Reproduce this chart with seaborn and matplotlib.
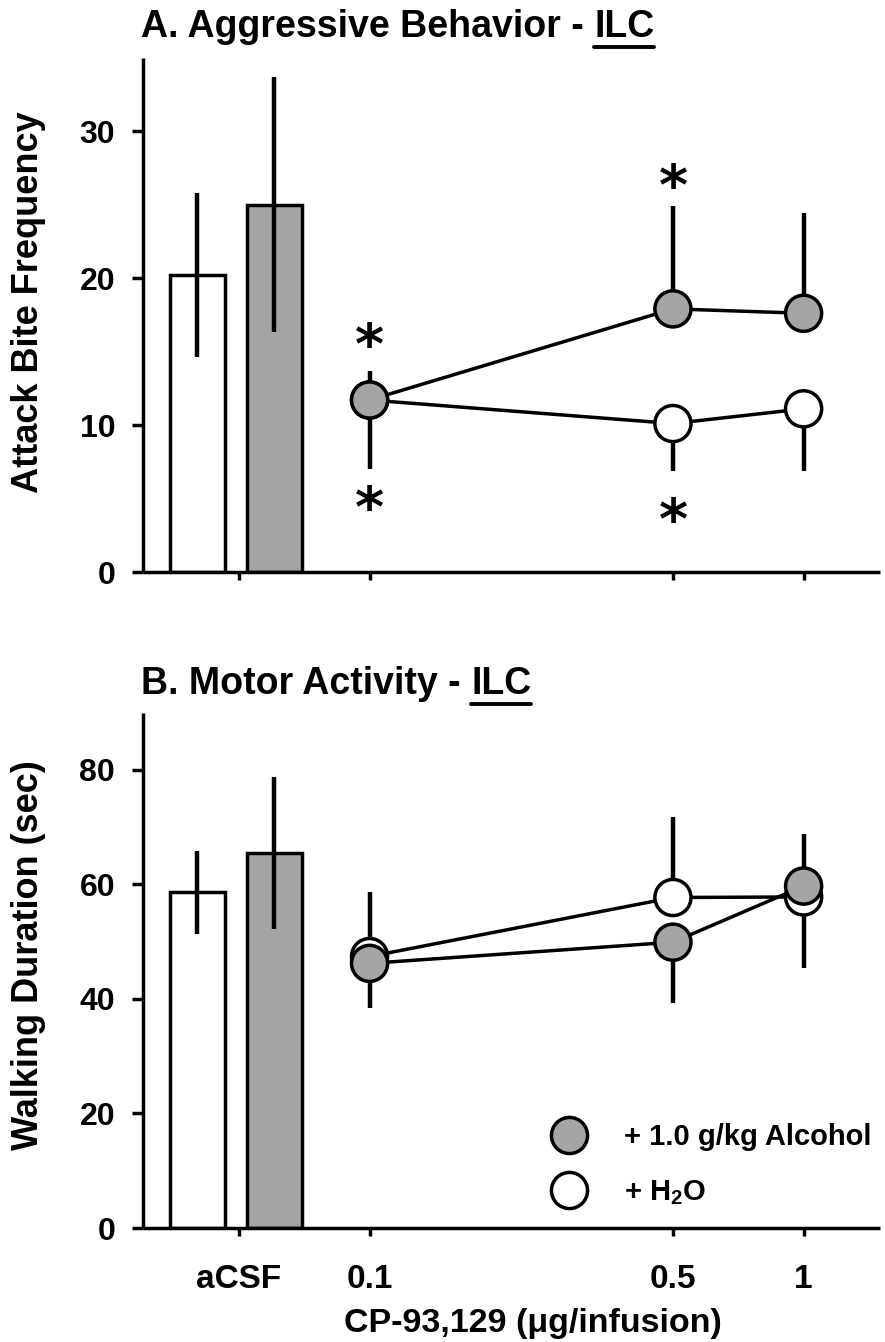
import numpy as np
import pandas as pd
import matplotlib
matplotlib.use("Agg")
import matplotlib.pyplot as plt
import matplotlib.transforms as mtransforms
import seaborn as sns
from matplotlib.lines import Line2D

# ---------------- data ----------------
dose_labels = ["aCSF", "0.1", "0.5", "1"]
doses = [0.1, 0.5, 1.0]
group_alc = "+ 1.0 g/kg Alcohol"
group_h2o = "+ H$_2$O"

# Panel A: attack bite frequency (aCSF bars: H2O, Alcohol)
bite_bar_mean = [20.2, 25.0]
bite_bar_sem = [5.6, 8.7]
bite_alc_mean = [11.7, 17.9, 17.6]
bite_alc_sem = [2.0, 7.0, 6.8]
bite_h2o_mean = [11.7, 10.1, 11.1]
bite_h2o_sem = [4.7, 3.2, 4.2]
star_dose = [0.1, 0.1, 0.5, 0.5]
star_y = [16.0, 4.9, 26.8, 4.1]

# Panel B: walking duration (sec)
walk_bar_mean = [58.6, 65.5]
walk_bar_sem = [7.2, 13.3]
walk_alc_mean = [46.2, 49.9, 59.7]
walk_alc_sem = [7.8, 10.6, 9.1]
walk_h2o_mean = [47.4, 57.7, 57.8]
walk_h2o_sem = [11.3, 14.0, 12.4]

# ---------------- style ----------------
sns.set_style("ticks", rc={"axes.edgecolor": "black", "text.color": "black",
                           "axes.labelcolor": "black", "xtick.color": "black",
                           "ytick.color": "black"})
plt.rcParams["font.family"] = ["Liberation Sans", "DejaVu Sans"]
plt.rcParams["font.weight"] = "bold"
plt.rcParams["mathtext.fontset"] = "custom"
plt.rcParams["mathtext.rm"] = "Liberation Sans:bold"
plt.rcParams["mathtext.it"] = "Liberation Sans:bold"
plt.rcParams["mathtext.bf"] = "Liberation Sans:bold"

GRAY = "#a5a5a5"
LW = 2.5          # spines, lines, marker edges
ELW = 3.2         # error bars
MS = 26           # marker diameter (pt)
ACSF_POS = 0.05               # where aCSF sits on the log dose axis
BAR_OFFS = [-0.0955, 0.081]   # in log10 units
BAR_W = 0.127
XLIM = (-1.522, 0.176)
W, H = 885, 1342

fig = plt.figure(figsize=(W / 100, H / 100), dpi=100)
axA = fig.add_axes([143 / W, 1 - 572 / H, (880 - 143) / W, (572 - 57.5) / H])
axB = fig.add_axes([143 / W, 1 - 1228 / H, (880 - 143) / W, (1228 - 712.5) / H])


def draw(ax, bar_mean, bar_sem, alc_mean, alc_sem, h2o_mean, h2o_sem,
         alc_up, h2o_up, ymax, yticks):
    bx = [np.log10(ACSF_POS) + o for o in BAR_OFFS]
    ax.bar(bx, bar_mean, width=BAR_W, color=["white", GRAY],
           edgecolor="black", linewidth=LW, zorder=2)
    ax.errorbar(bx, bar_mean, yerr=bar_sem, fmt="none", ecolor="black",
                elinewidth=ELW, capsize=0, zorder=3)

    lx = np.log10(doses)
    df = pd.DataFrame({
        "x": np.concatenate([lx, lx]),
        "y": h2o_mean + alc_mean,
        "group": [group_h2o] * 3 + [group_alc] * 3,
    })
    # one-sided error bars
    for mean, sem, up in ((alc_mean, alc_sem, alc_up), (h2o_mean, h2o_sem, h2o_up)):
        lo = [0 if u else s for s, u in zip(sem, up)]
        hi = [s if u else 0 for s, u in zip(sem, up)]
        ax.errorbar(lx, mean, yerr=[lo, hi], fmt="none", ecolor="black",
                    elinewidth=ELW, capsize=0, zorder=3)
    sns.lineplot(data=df, x="x", y="y", hue="group",
                 palette={group_h2o: "black", group_alc: "black"},
                 linewidth=LW, legend=False, sort=False, ax=ax, zorder=4)
    sns.scatterplot(data=df, x="x", y="y", hue="group",
                    palette={group_h2o: "white", group_alc: GRAY},
                    s=MS ** 2, edgecolor="black", linewidth=LW, legend=False,
                    ax=ax, zorder=5)

    ax.set_xlim(*XLIM)
    ax.set_ylim(0, ymax)
    ax.set_yticks(yticks)
    ax.set_xticks(np.log10([ACSF_POS] + doses))
    for s in ("top", "right"):
        ax.spines[s].set_visible(False)
    for s in ("left", "bottom"):
        ax.spines[s].set_linewidth(LW)
        ax.spines[s].set_capstyle("butt")
    ax.tick_params(axis="y", direction="out", length=8, width=LW,
                   labelsize=23, pad=12)
    ax.tick_params(axis="x", direction="out", length=6, width=LW,
                   labelsize=24, pad=20)
    ax.set_xlabel("")


draw(axA, bite_bar_mean, bite_bar_sem, bite_alc_mean, bite_alc_sem,
     bite_h2o_mean, bite_h2o_sem, [True] * 3, [False] * 3, 35, [0, 10, 20, 30])
draw(axB, walk_bar_mean, walk_bar_sem, walk_alc_mean, walk_alc_sem,
     walk_h2o_mean, walk_h2o_sem, [False, False, True], [True, True, False],
     90, [0, 20, 40, 60, 80])

axA.set_xticklabels([])
axB.set_xticklabels(dose_labels)

# significance stars (panel A)
star_tr = mtransforms.offset_copy(axA.transData, fig=fig, y=-11, units="dots")
for sx, sy in zip(np.log10(star_dose), star_y):
    axA.text(sx, sy, "*", ha="center", va="center", fontsize=40,
             fontweight="bold", family="DejaVu Sans", transform=star_tr)

axA.set_ylabel("Attack Bite Frequency", fontsize=26, fontweight="bold")
axA.yaxis.set_label_coords(-0.132, 0.524)
axB.set_ylabel("Walking Duration (sec)", fontsize=26, fontweight="bold")
axB.yaxis.set_label_coords(-0.132, 0.529)
axB.set_xlabel("CP-93,129 (\u03bcg/infusion)", fontsize=24.5, fontweight="bold")
axB.xaxis.set_label_coords(0.529, -0.156)

# legend
handles = [
    Line2D([], [], marker="o", linestyle="none", markersize=MS,
           markerfacecolor=GRAY, markeredgecolor="black", markeredgewidth=LW),
    Line2D([], [], marker="o", linestyle="none", markersize=MS,
           markerfacecolor="white", markeredgecolor="black", markeredgewidth=LW),
]
fig.legend(handles, [group_alc, group_h2o], loc="center left",
           bbox_to_anchor=(522 / W, 1 - 1165 / H), frameon=False,
           fontsize=21, labelspacing=0.93, handlelength=1.4,
           handletextpad=1.19, borderpad=0.4)

# titles with underlined "ILC"
fig.canvas.draw()
renderer = fig.canvas.get_renderer()


def title(x_px, y_px, prefix):
    t1 = fig.text(x_px / W, 1 - y_px / H, prefix, fontsize=27,
                  fontweight="bold", va="baseline")
    bb = t1.get_window_extent(renderer)
    t2 = fig.text(bb.x1 / W, 1 - y_px / H, "ILC", fontsize=27,
                  fontweight="bold", va="baseline")
    bb2 = t2.get_window_extent(renderer)
    yline = (H - y_px - 10) / H
    fig.add_artist(Line2D([bb2.x0 / W, bb2.x1 / W], [yline, yline],
                          color="black", linewidth=2.8))


title(141, 37, "A. Aggressive Behavior - ")
title(141, 694, "B. Motor Activity - ")

fig.savefig("out.png", dpi=100)
